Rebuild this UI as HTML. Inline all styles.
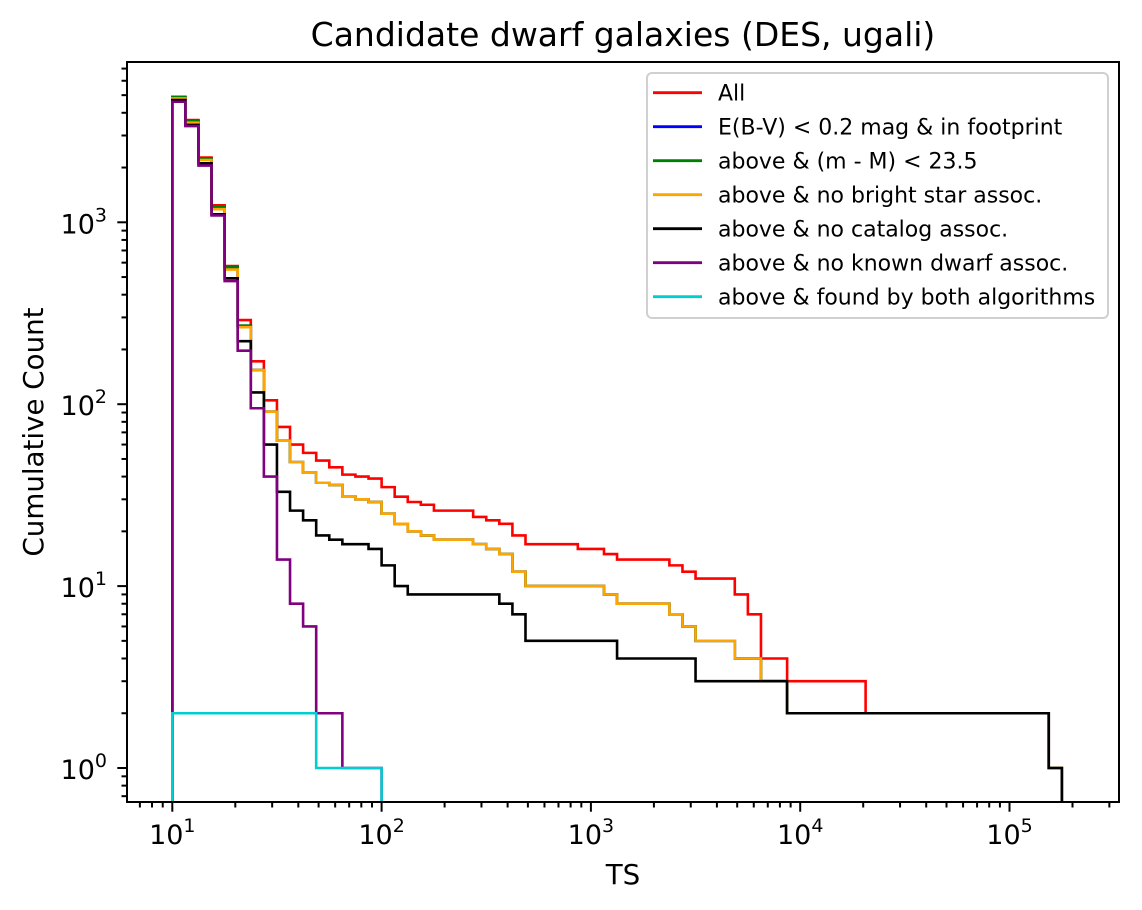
<!DOCTYPE html>
<html><head><meta charset="utf-8"><style>
html,body{margin:0;padding:0;background:#fff}
svg{display:block;font-family:"DejaVu Sans","Liberation Sans",sans-serif}
</style></head><body>
<svg id="chart" width="1142" height="910" viewBox="0 0 1142 910" xmlns="http://www.w3.org/2000/svg">
<rect width="1142" height="910" fill="#fff"/>
<text x="623" y="46" font-size="33" text-anchor="middle">Candidate dwarf galaxies (DES, ugali)</text>
<text x="623" y="884" font-size="27.7" text-anchor="middle">TS</text>
<text x="0" y="0" font-size="27.7" text-anchor="middle" transform="translate(43,432) rotate(-90)">Cumulative Count</text>
<defs><clipPath id="plotclip"><rect x="127" y="62" width="992" height="740"/></clipPath></defs>
<g id="series" clip-path="url(#plotclip)"></g>
<g id="ticks"></g>
<rect x="127" y="62" width="992" height="740" fill="none" stroke="#000" stroke-width="2"/>
<g id="legend"></g>
</svg>
<script>
// bin layout: 16 log bins per decade starting at TS=10
const binStartLog = 1;
const binsPerDecade = 16;
const seriesNames = ["All","E(B-V) < 0.2 mag & in footprint","above & (m - M) < 23.5","above & no bright star assoc.","above & no catalog assoc.","above & no known dwarf assoc.","above & found by both algorithms"];
const seriesColors = ["#ff0000","#0000ff","#008000","#ffa500","#000000","#800080","#00ced1"];
const countsAll = [4900,3650,2270,1240,575,290,172,105,75,60, 54,49,45,41,40,39,35,31,29,28, 26,26,26,24,23,22,19,17,17,17, 17,16,16,15,14,14,14,14,13,12, 11,11,11,9,7,4,4,3,3,3, 3,3,3,2,2,2,2,2,2,2, 2,2,2,2,2,2,2,1];
const countsOrange = [4800,3530,2200,1180,550,265,154,91,63,48, 42,37,36,31,30,29,25,22,20,19, 18,18,18,17,16,15,12,10,10,10, 10,10,10,9,8,8,8,8,7,6, 5,5,5,4,4,3,3,2,2,2, 2,2,2,2,2,2,2,2,2,2, 2,2,2,2,2,2,2,1];
const countsGreen = [4870,3600,2240,1210,565,270,154,91,63,48, 42,37,36,31,30,29,25,22,20,19, 18,18,18,17,16,15,12,10,10,10, 10,10,10,9,8,8,8,8,7,6, 5,5,5,4,4,3,3,2,2,2, 2,2,2,2,2,2,2,2,2,2, 2,2,2,2,2,2,2,1];
const countsBlue = countsGreen.slice();
const countsBlack = [4700,3430,2110,1106,492,222,116,60,33,26, 23,19,18,17,17,16,13,10,9,9, 9,9,9,9,9,8,7,5,5,5, 5,5,5,5,4,4,4,4,4,4, 3,3,3,3,3,3,3,2,2,2, 2,2,2,2,2,2,2,2,2,2, 2,2,2,2,2,2,2,1];
const countsPurple = [4600,3380,2050,1090,475,197,95,40,14,8, 6,2,2,1,1,1];
const countsCyan = [2,2,2,2,2,2,2,2,2,2, 2,1,1,1,1,1];
const xMajorTicks = [1,2,3,4,5];
const yMajorTicks = [0,1,2,3];

const NS="http://www.w3.org/2000/svg";
const X0=172.3, XD=209.3, Y0=768, YD=181.9, BOTTOM=802, TOP=62, LEFT=127, RIGHT=1119;
function xScale(logv){return X0+(logv-1)*XD;}
function yScale(v){return Y0-Math.log10(v)*YD;}
function edgeX(i){return xScale(binStartLog+i/binsPerDecade);}

const allSeries=[countsAll,countsBlue,countsGreen,countsOrange,countsBlack,countsPurple,countsCyan];
const seriesKeys=["all","blue-footprint","green-distance","orange-no-bright-star","black-no-catalog","purple-no-dwarf","cyan-both-algorithms"];
const sg=document.getElementById('series');
allSeries.forEach((cnts,s)=>{
  let d="M"+edgeX(0).toFixed(2)+","+(BOTTOM+5);
  let last=0;
  for(let i=0;i<cnts.length;i++){
    if(cnts[i]<=0) break;
    const y=yScale(cnts[i]).toFixed(2);
    d+=" L"+edgeX(i).toFixed(2)+","+y+" L"+edgeX(i+1).toFixed(2)+","+y;
    last=i+1;
  }
  d+=" L"+edgeX(last).toFixed(2)+","+(BOTTOM+5);
  const p=document.createElementNS(NS,'path');
  p.setAttribute('d',d);p.setAttribute('fill','none');
  p.setAttribute('stroke',seriesColors[s]);p.setAttribute('stroke-width','2.6');
  
  
  sg.appendChild(p);
});

const tg=document.getElementById('ticks');
function line(x1,y1,x2,y2,name){
  const l=document.createElementNS(NS,'line');
  l.setAttribute('x1',x1);l.setAttribute('y1',y1);l.setAttribute('x2',x2);l.setAttribute('y2',y2);
  l.setAttribute('stroke','#000');l.setAttribute('stroke-width','2');
  
  
  tg.appendChild(l);
}
function powLabel(x,y,exp,anchor,name){
  const t=document.createElementNS(NS,'text');
  t.setAttribute('x',x);t.setAttribute('y',y);t.setAttribute('font-size','27');
  t.setAttribute('text-anchor',anchor);
  
  
  const a=document.createElementNS(NS,'tspan');a.textContent='10';
  const b=document.createElementNS(NS,'tspan');b.textContent=String(exp);
  b.setAttribute('font-size','19');b.setAttribute('dy','-12');
  t.appendChild(a);t.appendChild(b);tg.appendChild(t);
}
for(let dec=0;dec<=5;dec++){
  for(let m=2;m<=9;m++){
    const lv=dec+Math.log10(m);const x=xScale(lv);
    if(x<LEFT||x>RIGHT) continue;
    line(x,BOTTOM,x,BOTTOM+5.5,'x-minor-tick');
  }
}
xMajorTicks.forEach(e=>{const x=xScale(e);line(x,BOTTOM,x,BOTTOM+9.7,'x-major-tick');powLabel(x,844,e,'middle','x-tick-label');});
for(let dec=-1;dec<=3;dec++){
  for(let m=2;m<=9;m++){
    const y=yScale(m*Math.pow(10,dec));
    if(y<TOP||y>BOTTOM) continue;
    line(LEFT-5.5,y,LEFT,y,'y-minor-tick');
  }
}
yMajorTicks.forEach(e=>{const y=yScale(Math.pow(10,e));line(LEFT-9.7,y,LEFT,y,'y-major-tick');powLabel(107,y+11,e,'end','y-tick-label');});

const lg=document.getElementById('legend');
const box=document.createElementNS(NS,'rect');
box.setAttribute('x','647');box.setAttribute('y','73');box.setAttribute('width','461');box.setAttribute('height','245');
box.setAttribute('rx','5');box.setAttribute('fill','#fff');box.setAttribute('fill-opacity','0.8');
box.setAttribute('stroke','#d0d0d0');box.setAttribute('stroke-width','2');


lg.appendChild(box);
seriesNames.forEach((nm,k)=>{
  const y=92.7+34*k;
  const g=document.createElementNS(NS,'g');
  
  
  const l=document.createElementNS(NS,'line');
  l.setAttribute('x1','653');l.setAttribute('x2','702');l.setAttribute('y1',y);l.setAttribute('y2',y);
  l.setAttribute('stroke',seriesColors[k]);l.setAttribute('stroke-width','2.8');
  
  
  const t=document.createElementNS(NS,'text');
  t.setAttribute('x','718');t.setAttribute('y',y+8);t.setAttribute('font-size','22');
  t.textContent=nm;
  
  
  g.appendChild(l);g.appendChild(t);lg.appendChild(g);
});
</script>
</body></html>
